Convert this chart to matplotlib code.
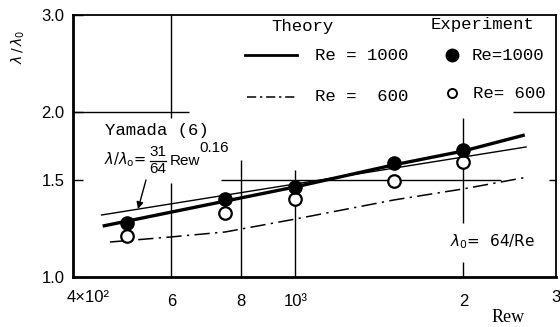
import matplotlib
matplotlib.use('Agg')
import matplotlib.pyplot as plt
from matplotlib.lines import Line2D

W, H = 560, 327

# Measured friction-factor ratio lambda/lambda0 against Rew
rew_exp = [500, 750, 1000, 1500, 2000]
exp_re1000 = [1.254, 1.387, 1.459, 1.613, 1.703]
exp_re600 = [1.188, 1.308, 1.387, 1.496, 1.620]

# Theoretical curves
rew_th1000 = [452, 750, 1000, 1500, 2000, 2576]
th_re1000 = [1.238, 1.375, 1.459, 1.600, 1.696, 1.814]
rew_th600 = [466, 600, 750, 1000, 1500, 2000, 2610]
th_re600 = [1.158, 1.183, 1.208, 1.275, 1.381, 1.447, 1.521]

# Yamada correlation (a straight line on log-log axes)
rew_yamada = [450, 2590]
yamada = [1.297, 1.725]

x_ticks = [400, 600, 800, 1000, 2000]
x_ticklabels = ['', '6', '8', '10³', '2']
y_ticks = [1.0, 1.5, 2.0, 3.0]
y_ticklabels = ['1.0', '1.5', '2.0', '3.0']

MONO = 'Liberation Mono'
SANS = 'Liberation Sans'
plt.rcParams['mathtext.fontset'] = 'dejavusans'


def fp(x, y):
    """pixel position (from top-left) -> figure fraction"""
    return x / W, 1 - y / H


fig = plt.figure(figsize=(W / 100, H / 100), dpi=100)
left, right, top, bottom = 73, 556, 15, 277
ax = fig.add_axes([left / W, 1 - bottom / H, (right - left) / W, (bottom - top) / H])
ax.set_xscale('log')
ax.set_yscale('log')
ax.set_xlim(400, 2930)
ax.set_ylim(1.0, 3.0)

# partial grid lines
glw = 1.0
ax.vlines(600, 1.948, 3.0, color='k', lw=glw)
ax.vlines(600, 1.0, 1.483, color='k', lw=glw)
ax.vlines(800, 1.0, 1.634, color='k', lw=glw)
ax.vlines(1000, 1.0, 1.567, color='k', lw=glw)
ax.vlines(2000, 1.254, 1.948, color='k', lw=glw)
ax.vlines(2000, 1.0, 1.065, color='k', lw=glw)
ax.hlines(2.0, 400, 646, color='k', lw=glw)
ax.hlines(2.0, 2456, 2930, color='k', lw=glw)
ax.hlines(1.5, 735, 2336, color='k', lw=glw)
ax.hlines(1.5, 2845, 2930, color='k', lw=glw)

# curves
ax.plot(rew_yamada, yamada, color='k', lw=1.0)
ax.plot(rew_th1000, th_re1000, color='k', lw=2.4, solid_capstyle='butt')
ax.plot(rew_th600, th_re600, color='k', lw=1.1, linestyle=(0, (10, 3.5, 1.5, 3.5)))

# experimental points
ax.plot(rew_exp, exp_re600, 'o', ms=9, mfc='white', mec='k', mew=1.6, zorder=4)
ax.plot(rew_exp, exp_re1000, 'o', ms=9.5, mfc='k', mec='k', zorder=5)

tfs = 12
ax.set_xticks(x_ticks)
ax.set_xticklabels(x_ticklabels, fontfamily=SANS, fontsize=tfs)
ax.set_xticks([], minor=True)
ax.set_yticks(y_ticks)
ax.set_yticklabels(y_ticklabels, fontfamily=SANS, fontsize=tfs)
ax.set_yticks([], minor=True)
ax.tick_params(axis='x', length=0, pad=12)
ax.tick_params(axis='y', direction='in', length=7, width=1.0, pad=6)

for s in ('left', 'bottom'):
    ax.spines[s].set_linewidth(2.0)
for s in ('top', 'right'):
    ax.spines[s].set_linewidth(1.3)

# first and last x labels sit off their tick positions
fig.text(*fp(67, 298), '4×10²', ha='left', va='center', fontfamily=SANS, fontsize=tfs)
fig.text(*fp(556, 298), '3', ha='center', va='center', fontfamily=SANS, fontsize=tfs)
fig.text(*fp(508, 318), 'Rew', ha='center', va='center', fontfamily='Liberation Serif', fontsize=13)
fig.text(*fp(18, 47), r'$\lambda\,/\,\lambda_0$', ha='center', va='center', rotation=90, fontsize=10)

# legend block
fs = 12.5
fig.text(*fp(303, 27), 'Theory', ha='center', va='center', fontfamily=MONO, fontsize=fs)
fig.text(*fp(483, 25), 'Experiment', ha='center', va='center', fontfamily=MONO, fontsize=fs)
x0, y0 = fp(245, 55)
x1, _ = fp(297, 55)
fig.add_artist(Line2D([x0, x1], [y0, y0], color='k', lw=2.0, transform=fig.transFigure))
x0, y0 = fp(247, 97)
x1, _ = fp(298, 97)
fig.add_artist(Line2D([x0, x1], [y0, y0], color='k', lw=1.1,
                      linestyle=(0, (6, 2.5, 1.5, 2.5)), transform=fig.transFigure))
fig.text(*fp(315, 55), 'Re = 1000', ha='left', va='center', fontfamily=MONO, fontsize=fs)
fig.text(*fp(315, 97), 'Re =  600', ha='left', va='center', fontfamily=MONO, fontsize=fs)
xm, ym = fp(452, 55)
fig.add_artist(Line2D([xm], [ym], marker='o', ms=9, mfc='k', mec='k', transform=fig.transFigure))
xm, ym = fp(452, 93)
fig.add_artist(Line2D([xm], [ym], marker='o', ms=6.5, mfc='white', mec='k', mew=1.4,
                      transform=fig.transFigure))
fig.text(*fp(472, 55), 'Re=1000', ha='left', va='center', fontfamily=MONO, fontsize=fs)
fig.text(*fp(473, 93), 'Re= 600', ha='left', va='center', fontfamily=MONO, fontsize=fs)

# Yamada annotation: lambda/lambda_o = 31/64 Rew^0.16
fig.text(*fp(105, 131), 'Yamada (6)', ha='left', va='center', fontfamily=MONO, fontsize=fs)
fig.text(*fp(104, 160), r'$\lambda/\lambda_{\rm o}$=', ha='left', va='center', fontsize=10.5)
fig.text(*fp(158, 152), '31', ha='center', va='center', fontfamily=SANS, fontsize=11)
fig.text(*fp(158, 169), '64', ha='center', va='center', fontfamily=SANS, fontsize=11)
xa, yb = fp(150, 160.5)
xb, _ = fp(166, 160.5)
fig.add_artist(Line2D([xa, xb], [yb, yb], color='k', lw=0.9, transform=fig.transFigure))
fig.text(*fp(170, 161), 'Rew', ha='left', va='center', fontfamily=SANS, fontsize=11)
fig.text(*fp(199, 148), '0.16', ha='left', va='center', fontfamily=SANS, fontsize=11)
ax.annotate('', xy=fp(138, 209), xytext=fp(146, 180),
            xycoords='figure fraction', textcoords='figure fraction',
            arrowprops=dict(arrowstyle='-|>', color='k', lw=1.0, mutation_scale=10,
                            shrinkA=0, shrinkB=0))

fig.text(*fp(450, 242), r'$\lambda_0$=  64/Re', ha='left', va='center', fontsize=11)

fig.savefig('out.png', dpi=100)
